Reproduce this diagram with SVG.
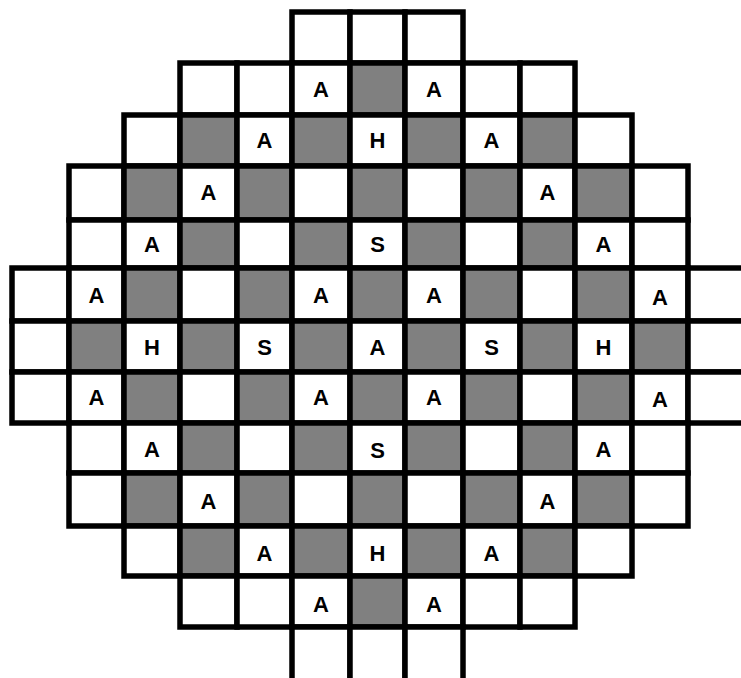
<svg xmlns="http://www.w3.org/2000/svg" width="741" height="678" viewBox="0 0 741 678">
<style>
.w{fill:#ffffff;stroke:#000;stroke-width:5.5}
.g{fill:#808080;stroke:#000;stroke-width:5.5}
text{font-family:"Liberation Sans",Arial,sans-serif;font-weight:bold;font-size:22px;text-anchor:middle;fill:#000}
</style>
<rect width="741" height="678" fill="#fff"/>
<g id="row0">
<rect class="w" x="292" y="12" width="58" height="51"/><rect class="w" x="350" y="12" width="55" height="51"/><rect class="w" x="405" y="12" width="58" height="51"/>
</g>
<g id="row1">
<rect class="w" x="180" y="63" width="57" height="52"/><rect class="w" x="237" y="63" width="55" height="52"/><rect class="w" x="292" y="63" width="58" height="52"/><rect class="g" x="350" y="63" width="55" height="52"/><rect class="w" x="405" y="63" width="58" height="52"/><rect class="w" x="463" y="63" width="57" height="52"/><rect class="w" x="520" y="63" width="55" height="52"/>
</g>
<g id="row2">
<rect class="w" x="124" y="115" width="56" height="51"/><rect class="g" x="180" y="115" width="57" height="51"/><rect class="w" x="237" y="115" width="55" height="51"/><rect class="g" x="292" y="115" width="58" height="51"/><rect class="w" x="350" y="115" width="55" height="51"/><rect class="g" x="405" y="115" width="58" height="51"/><rect class="w" x="463" y="115" width="57" height="51"/><rect class="g" x="520" y="115" width="55" height="51"/><rect class="w" x="575" y="115" width="57" height="51"/>
</g>
<g id="row3">
<rect class="w" x="69" y="166" width="55" height="54"/><rect class="g" x="124" y="166" width="56" height="54"/><rect class="w" x="180" y="166" width="57" height="54"/><rect class="g" x="237" y="166" width="55" height="54"/><rect class="w" x="292" y="166" width="58" height="54"/><rect class="g" x="350" y="166" width="55" height="54"/><rect class="w" x="405" y="166" width="58" height="54"/><rect class="g" x="463" y="166" width="57" height="54"/><rect class="w" x="520" y="166" width="55" height="54"/><rect class="g" x="575" y="166" width="57" height="54"/><rect class="w" x="632" y="166" width="56" height="54"/>
</g>
<g id="row4">
<rect class="w" x="69" y="220" width="55" height="48"/><rect class="w" x="124" y="220" width="56" height="48"/><rect class="g" x="180" y="220" width="57" height="48"/><rect class="w" x="237" y="220" width="55" height="48"/><rect class="g" x="292" y="220" width="58" height="48"/><rect class="w" x="350" y="220" width="55" height="48"/><rect class="g" x="405" y="220" width="58" height="48"/><rect class="w" x="463" y="220" width="57" height="48"/><rect class="g" x="520" y="220" width="55" height="48"/><rect class="w" x="575" y="220" width="57" height="48"/><rect class="w" x="632" y="220" width="56" height="48"/>
</g>
<g id="row5">
<rect class="w" x="12" y="268" width="57" height="53"/><rect class="w" x="69" y="268" width="55" height="53"/><rect class="g" x="124" y="268" width="56" height="53"/><rect class="w" x="180" y="268" width="57" height="53"/><rect class="g" x="237" y="268" width="55" height="53"/><rect class="w" x="292" y="268" width="58" height="53"/><rect class="g" x="350" y="268" width="55" height="53"/><rect class="w" x="405" y="268" width="58" height="53"/><rect class="g" x="463" y="268" width="57" height="53"/><rect class="w" x="520" y="268" width="55" height="53"/><rect class="g" x="575" y="268" width="57" height="53"/><rect class="w" x="632" y="268" width="56" height="53"/><rect class="w" x="688" y="268" width="57" height="53"/>
</g>
<g id="row6">
<rect class="w" x="12" y="321" width="57" height="51"/><rect class="g" x="69" y="321" width="55" height="51"/><rect class="w" x="124" y="321" width="56" height="51"/><rect class="g" x="180" y="321" width="57" height="51"/><rect class="w" x="237" y="321" width="55" height="51"/><rect class="g" x="292" y="321" width="58" height="51"/><rect class="w" x="350" y="321" width="55" height="51"/><rect class="g" x="405" y="321" width="58" height="51"/><rect class="w" x="463" y="321" width="57" height="51"/><rect class="g" x="520" y="321" width="55" height="51"/><rect class="w" x="575" y="321" width="57" height="51"/><rect class="g" x="632" y="321" width="56" height="51"/><rect class="w" x="688" y="321" width="57" height="51"/>
</g>
<g id="row7">
<rect class="w" x="12" y="372" width="57" height="51"/><rect class="w" x="69" y="372" width="55" height="51"/><rect class="g" x="124" y="372" width="56" height="51"/><rect class="w" x="180" y="372" width="57" height="51"/><rect class="g" x="237" y="372" width="55" height="51"/><rect class="w" x="292" y="372" width="58" height="51"/><rect class="g" x="350" y="372" width="55" height="51"/><rect class="w" x="405" y="372" width="58" height="51"/><rect class="g" x="463" y="372" width="57" height="51"/><rect class="w" x="520" y="372" width="55" height="51"/><rect class="g" x="575" y="372" width="57" height="51"/><rect class="w" x="632" y="372" width="56" height="51"/><rect class="w" x="688" y="372" width="57" height="51"/>
</g>
<g id="row8">
<rect class="w" x="69" y="423" width="55" height="50"/><rect class="w" x="124" y="423" width="56" height="50"/><rect class="g" x="180" y="423" width="57" height="50"/><rect class="w" x="237" y="423" width="55" height="50"/><rect class="g" x="292" y="423" width="58" height="50"/><rect class="w" x="350" y="423" width="55" height="50"/><rect class="g" x="405" y="423" width="58" height="50"/><rect class="w" x="463" y="423" width="57" height="50"/><rect class="g" x="520" y="423" width="55" height="50"/><rect class="w" x="575" y="423" width="57" height="50"/><rect class="w" x="632" y="423" width="56" height="50"/>
</g>
<g id="row9">
<rect class="w" x="69" y="473" width="55" height="53"/><rect class="g" x="124" y="473" width="56" height="53"/><rect class="w" x="180" y="473" width="57" height="53"/><rect class="g" x="237" y="473" width="55" height="53"/><rect class="w" x="292" y="473" width="58" height="53"/><rect class="g" x="350" y="473" width="55" height="53"/><rect class="w" x="405" y="473" width="58" height="53"/><rect class="g" x="463" y="473" width="57" height="53"/><rect class="w" x="520" y="473" width="55" height="53"/><rect class="g" x="575" y="473" width="57" height="53"/><rect class="w" x="632" y="473" width="56" height="53"/>
</g>
<g id="row10">
<rect class="w" x="124" y="526" width="56" height="50"/><rect class="g" x="180" y="526" width="57" height="50"/><rect class="w" x="237" y="526" width="55" height="50"/><rect class="g" x="292" y="526" width="58" height="50"/><rect class="w" x="350" y="526" width="55" height="50"/><rect class="g" x="405" y="526" width="58" height="50"/><rect class="w" x="463" y="526" width="57" height="50"/><rect class="g" x="520" y="526" width="55" height="50"/><rect class="w" x="575" y="526" width="57" height="50"/>
</g>
<g id="row11">
<rect class="w" x="180" y="576" width="57" height="51"/><rect class="w" x="237" y="576" width="55" height="51"/><rect class="w" x="292" y="576" width="58" height="51"/><rect class="g" x="350" y="576" width="55" height="51"/><rect class="w" x="405" y="576" width="58" height="51"/><rect class="w" x="463" y="576" width="57" height="51"/><rect class="w" x="520" y="576" width="55" height="51"/>
</g>
<g id="row12">
<rect class="w" x="292" y="627" width="58" height="54"/><rect class="w" x="350" y="627" width="55" height="54"/><rect class="w" x="405" y="627" width="58" height="54"/>
</g>
<g id="labels">
<text x="321" y="97">A</text><text x="434" y="97">A</text>
<text x="264.5" y="148">A</text><text x="377.5" y="148">H</text><text x="491.5" y="148">A</text>
<text x="208.5" y="200">A</text><text x="547.5" y="200">A</text>
<text x="152" y="252">A</text><text x="377.5" y="252">S</text><text x="603.5" y="252">A</text>
<text x="96.5" y="303">A</text><text x="321" y="303">A</text><text x="434" y="303">A</text><text x="660" y="305">A</text>
<text x="152" y="355">H</text><text x="264.5" y="355">S</text><text x="377.5" y="355">A</text><text x="491.5" y="355">S</text><text x="603.5" y="355">H</text>
<text x="96.5" y="405">A</text><text x="321" y="405">A</text><text x="434" y="405">A</text><text x="660" y="407">A</text>
<text x="152" y="457">A</text><text x="377.5" y="458">S</text><text x="603.5" y="457">A</text>
<text x="208.5" y="509">A</text><text x="547.5" y="509">A</text>
<text x="264.5" y="561">A</text><text x="377.5" y="561">H</text><text x="491.5" y="561">A</text>
<text x="321" y="612">A</text><text x="434" y="612">A</text>
</g>
</svg>
